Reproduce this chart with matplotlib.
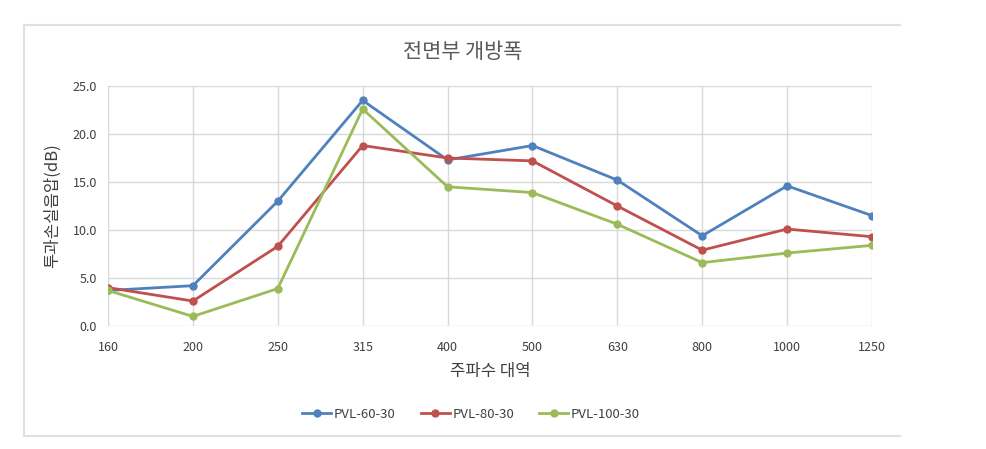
import matplotlib
matplotlib.use("Agg")
import matplotlib.pyplot as plt
from matplotlib.lines import Line2D

plt.rcParams['font.family'] = ['Noto Sans CJK KR', 'DejaVu Sans']

# data
freqs = ['160', '200', '250', '315', '400', '500', '630', '800', '1000', '1250']
pvl_60 = [3.7, 4.2, 13.0, 23.5, 17.3, 18.8, 15.2, 9.4, 14.6, 11.5]
pvl_80 = [4.0, 2.6, 8.3, 18.8, 17.5, 17.2, 12.5, 7.9, 10.1, 9.3]
pvl_100 = [3.7, 1.0, 3.9, 22.6, 14.5, 13.9, 10.6, 6.6, 7.6, 8.4]
series_names = ['PVL-60-30', 'PVL-80-30', 'PVL-100-30']
colors = ['#4F81BD', '#C0504D', '#9BBB59']
y_ticks = [0, 5, 10, 15, 20, 25]

fig = plt.figure(figsize=(9.87, 4.49), dpi=100)
ax = fig.add_axes([108/987, 1-326/449, (872-108)/987, (326-86)/449])

x = list(range(len(freqs)))
for vals, name, c in zip([pvl_60, pvl_80, pvl_100], series_names, colors):
    ax.plot(x, vals, color=c, lw=2, marker='o', ms=5, label=name, zorder=3)

ax.set_xlim(0, len(freqs) - 1)
ax.set_ylim(0, 25)
ax.set_xticks(x)
ax.set_xticklabels(freqs)
ax.set_yticks(y_ticks)
ax.set_yticklabels([f'{v:.1f}' for v in y_ticks])
ax.grid(True, color='#d9d9d9', lw=1)
ax.set_axisbelow(True)
for s in ax.spines.values():
    s.set_visible(False)
ax.tick_params(length=0, labelsize=9, colors='#404040')
ax.tick_params(axis='x', pad=11)
ax.tick_params(axis='y', pad=8)

ax.set_xlabel('주파수 대역', fontsize=12, color='#404040', labelpad=6)
ax.set_ylabel('투과손실음압(dB)', fontsize=12, color='#404040', labelpad=8)
fig.text(463/987, 1-52/449, '전면부 개방폭', ha='center', va='center',
         fontsize=15, color='#595959')

ax.legend(loc='center', bbox_to_anchor=(471/987, 1-414/449),
          bbox_transform=fig.transFigure, ncol=3, frameon=False,
          fontsize=9.5, handlelength=2.2, handletextpad=0.2, columnspacing=1.9,
          labelcolor='#404040')

# chart area border
for xs, ys in [([24, 900], [25, 25]), ([24, 24], [25, 436]), ([24, 900], [436, 436])]:
    fig.add_artist(Line2D([v/987 for v in xs], [1-v/449 for v in ys],
                          color='#e0e0e0', lw=1.5, transform=fig.transFigure))

fig.savefig('out.png', dpi=100)
